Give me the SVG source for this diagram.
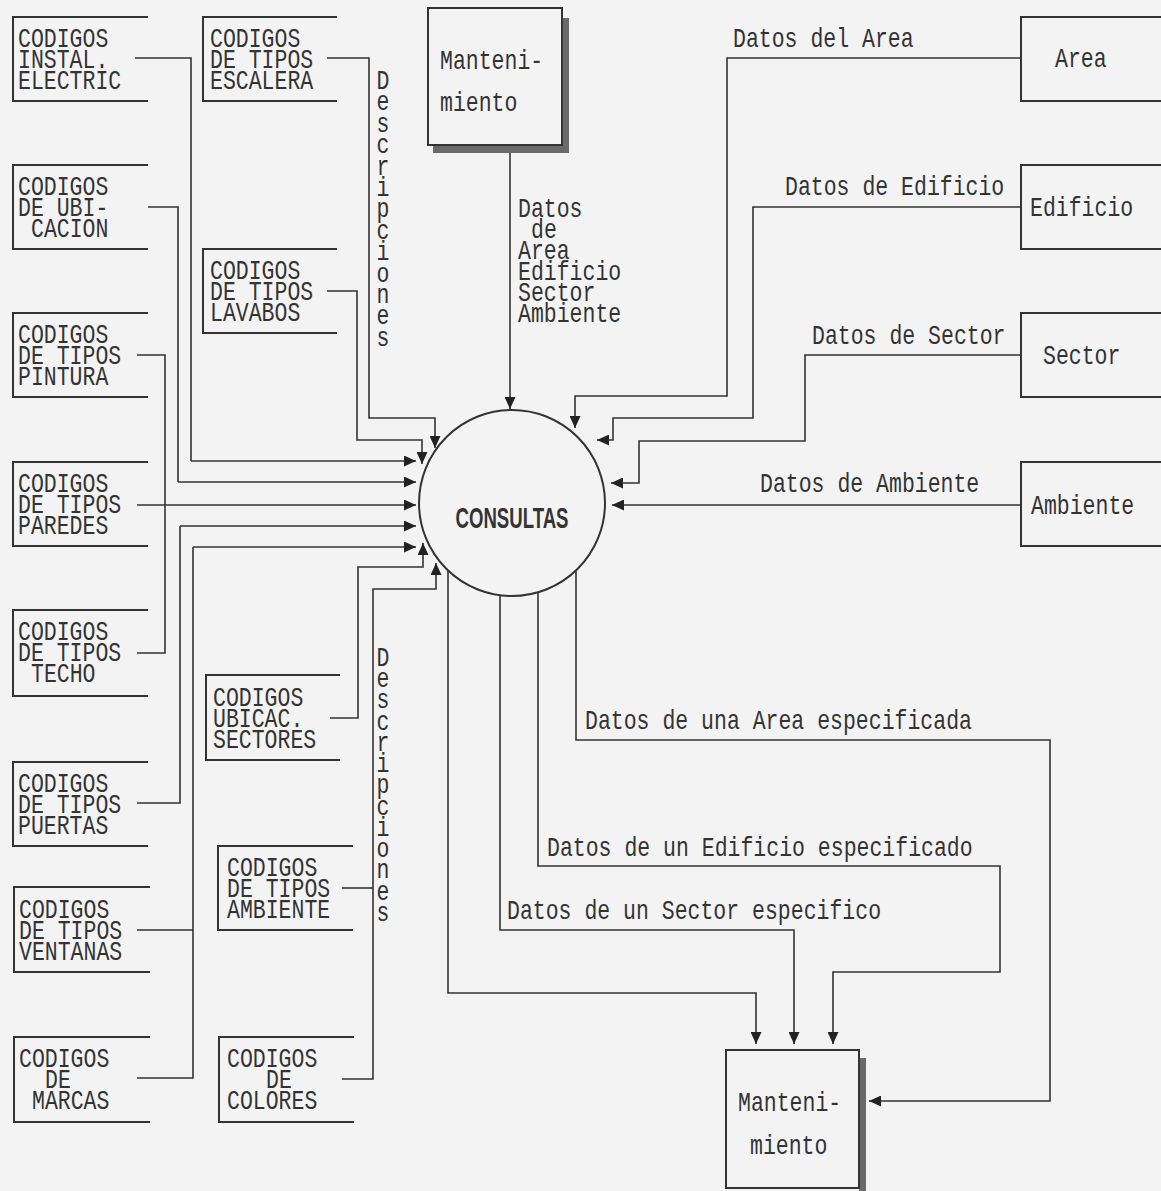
<svg xmlns="http://www.w3.org/2000/svg" width="1161" height="1191" viewBox="0 0 1161 1191">
<style>
.t{font-family:"Liberation Mono","DejaVu Sans Mono",monospace;font-size:21.5px;fill:#333}
.box{fill:none;stroke:#333;stroke-width:2}
.ln{fill:none;stroke:#333;stroke-width:1.6}
.arr{fill:none;stroke:#333;stroke-width:1.6;marker-end:url(#ah)}
.sh{fill:#6a6a6a}
</style>
<defs>
<marker id="ah" markerUnits="userSpaceOnUse" markerWidth="13" markerHeight="11" refX="12" refY="5.5" orient="auto" viewBox="0 0 13 11"><path d="M0,0 L12,5.5 L0,11 z" fill="#222"/></marker>
</defs>
<rect width="1161" height="1191" fill="#f3f3f3"/>

<!-- Left column stores -->
<g id="n-instal"><path class="box" d="M148,17 H13 V101 H148"/><text class="t" transform="translate(18,47) scale(1,1.25)"><tspan x="0" y="0">CODIGOS</tspan><tspan x="0" y="16.8">INSTAL.</tspan><tspan x="0" y="33.6">ELECTRIC</tspan></text></g>
<g id="n-ubicacion"><path class="box" d="M148,165 H13 V249 H148"/><text class="t" transform="translate(18,195) scale(1,1.25)"><tspan x="0" y="0">CODIGOS</tspan><tspan x="0" y="16.8">DE UBI-</tspan><tspan x="13" y="33.6">CACION</tspan></text></g>
<g id="n-pintura"><path class="box" d="M148,313 H13 V397 H148"/><text class="t" transform="translate(18,343) scale(1,1.25)"><tspan x="0" y="0">CODIGOS</tspan><tspan x="0" y="16.8">DE TIPOS</tspan><tspan x="0" y="33.6">PINTURA</tspan></text></g>
<g id="n-paredes"><path class="box" d="M148,462 H13 V546 H148"/><text class="t" transform="translate(18,492) scale(1,1.25)"><tspan x="0" y="0">CODIGOS</tspan><tspan x="0" y="16.8">DE TIPOS</tspan><tspan x="0" y="33.6">PAREDES</tspan></text></g>
<g id="n-techo"><path class="box" d="M148,610 H13 V696 H148"/><text class="t" transform="translate(18,640) scale(1,1.25)"><tspan x="0" y="0">CODIGOS</tspan><tspan x="0" y="16.8">DE TIPOS</tspan><tspan x="13" y="33.6">TECHO</tspan></text></g>
<g id="n-puertas"><path class="box" d="M148,762 H13 V846 H148"/><text class="t" transform="translate(18,792) scale(1,1.25)"><tspan x="0" y="0">CODIGOS</tspan><tspan x="0" y="16.8">DE TIPOS</tspan><tspan x="0" y="33.6">PUERTAS</tspan></text></g>
<g id="n-ventanas"><path class="box" d="M150,887 H14 V972 H150"/><text class="t" transform="translate(19,918) scale(1,1.25)"><tspan x="0" y="0">CODIGOS</tspan><tspan x="0" y="16.8">DE TIPOS</tspan><tspan x="0" y="33.6">VENTANAS</tspan></text></g>
<g id="n-marcas"><path class="box" d="M150,1037 H14 V1122 H150"/><text class="t" transform="translate(19,1067) scale(1,1.25)"><tspan x="0" y="0">CODIGOS</tspan><tspan x="26" y="16.8">DE</tspan><tspan x="13" y="33.6">MARCAS</tspan></text></g>

<!-- Second column stores -->
<g id="n-escalera"><path class="box" d="M337,17 H203 V101 H337"/><text class="t" transform="translate(210,47) scale(1,1.25)"><tspan x="0" y="0">CODIGOS</tspan><tspan x="0" y="16.8">DE TIPOS</tspan><tspan x="0" y="33.6">ESCALERA</tspan></text></g>
<g id="n-lavabos"><path class="box" d="M337,249 H203 V333 H337"/><text class="t" transform="translate(210,279) scale(1,1.25)"><tspan x="0" y="0">CODIGOS</tspan><tspan x="0" y="16.8">DE TIPOS</tspan><tspan x="0" y="33.6">LAVABOS</tspan></text></g>
<g id="n-sectores"><path class="box" d="M340,675 H206 V760 H340"/><text class="t" transform="translate(213,706) scale(1,1.25)"><tspan x="0" y="0">CODIGOS</tspan><tspan x="0" y="16.8">UBICAC.</tspan><tspan x="0" y="33.6">SECTORES</tspan></text></g>
<g id="n-ambiente-tipos"><path class="box" d="M353,846 H218 V930 H353"/><text class="t" transform="translate(227,876) scale(1,1.25)"><tspan x="0" y="0">CODIGOS</tspan><tspan x="0" y="16.8">DE TIPOS</tspan><tspan x="0" y="33.6">AMBIENTE</tspan></text></g>
<g id="n-colores"><path class="box" d="M354,1037 H219 V1122 H354"/><text class="t" transform="translate(227,1067) scale(1,1.25)"><tspan x="0" y="0">CODIGOS</tspan><tspan x="39" y="16.8">DE</tspan><tspan x="0" y="33.6">COLORES</tspan></text></g>

<!-- Right stores -->
<g id="n-area"><path class="box" d="M1161,17 H1021 V101 H1161"/><text class="t" transform="translate(1055,67) scale(1,1.25)">Area</text></g>
<g id="n-edificio"><path class="box" d="M1161,165 H1021 V249 H1161"/><text class="t" transform="translate(1030,216) scale(1,1.25)">Edificio</text></g>
<g id="n-sector"><path class="box" d="M1161,313 H1021 V397 H1161"/><text class="t" transform="translate(1043,364) scale(1,1.25)">Sector</text></g>
<g id="n-ambiente"><path class="box" d="M1161,462 H1021 V546 H1161"/><text class="t" transform="translate(1031,514) scale(1,1.25)">Ambiente</text></g>

<!-- Process -->
<g id="n-consultas"><circle cx="512" cy="503" r="93" fill="none" stroke="#333" stroke-width="2"/><text x="512" y="528" text-anchor="middle" font-family="Liberation Sans,Arial,sans-serif" font-weight="bold" font-size="30" fill="#333" textLength="113" lengthAdjust="spacingAndGlyphs">CONSULTAS</text></g>

<!-- External entities -->
<g id="n-mant-top"><rect class="sh" x="562" y="18" width="7" height="135"/><rect class="sh" x="433" y="145" width="136" height="8"/><rect x="428" y="8" width="134" height="137" fill="#f3f3f3" stroke="#333" stroke-width="2"/><text class="t" transform="translate(440,69) scale(1,1.25)"><tspan x="0" y="0">Manteni-</tspan><tspan x="0" y="33.6">miento</tspan></text></g>
<g id="n-mant-bottom"><rect class="sh" x="859" y="1058" width="7" height="133"/><rect x="726" y="1050" width="133" height="138" fill="#f3f3f3" stroke="#333" stroke-width="2"/><text class="t" transform="translate(738,1111) scale(1,1.25)"><tspan x="0" y="0">Manteni-</tspan><tspan x="12" y="34.4">miento</tspan></text></g>

<!-- Connectors -->
<g id="connectors">
<path class="ln" d="M135,58 H191 V461"/>
<path class="arr" d="M191,461 H416"/>
<path class="ln" d="M148,207 H178 V482"/>
<path class="arr" d="M178,482 H416"/>
<path class="ln" d="M137,355 H165 V653 H137"/>
<path class="arr" d="M137,505 H416"/>
<path class="ln" d="M137,803 H180 V526"/>
<path class="arr" d="M180,526 H416"/>
<path class="ln" d="M137,930 H193"/>
<path class="ln" d="M137,1078 H193 V547"/>
<path class="arr" d="M193,547 H416"/>
<path class="arr" d="M327,58 H369 V418 H435 V448"/>
<path class="arr" d="M327,291 H357 V440 H422 V464"/>
<path class="arr" d="M330,718 H358 V567 H423 V543"/>
<path class="ln" d="M342,888 H373"/>
<path class="arr" d="M342,1079 H373 V589 H436 V563"/>
<path class="arr" d="M510,153 V409"/>
<path class="arr" d="M1021,58 H727 V396 H575 V428"/>
<path class="arr" d="M1021,207 H753 V418 H613 V440 H597"/>
<path class="arr" d="M1021,355 H805 V441 H639 V483 H611"/>
<path class="arr" d="M1021,505 H612"/>
<path class="arr" d="M448,571 V993 H756 V1044"/>
<path class="arr" d="M500,595 V930 H794 V1044"/>
<path class="arr" d="M538,592 V866 H1000 V972 H833 V1044"/>
<path class="arr" d="M576,571 V740 H1050 V1101 H869"/>
</g>

<!-- Connector labels -->
<g id="labels">
<text class="t" text-anchor="middle" transform="translate(383,89) scale(1,1.25)"><tspan x="0" y="0">D</tspan><tspan x="0" dy="17.12">e</tspan><tspan x="0" dy="17.12">s</tspan><tspan x="0" dy="17.12">c</tspan><tspan x="0" dy="17.12">r</tspan><tspan x="0" dy="17.12">i</tspan><tspan x="0" dy="17.12">p</tspan><tspan x="0" dy="17.12">c</tspan><tspan x="0" dy="17.12">i</tspan><tspan x="0" dy="17.12">o</tspan><tspan x="0" dy="17.12">n</tspan><tspan x="0" dy="17.12">e</tspan><tspan x="0" dy="17.12">s</tspan></text>
<text class="t" text-anchor="middle" transform="translate(383,666) scale(1,1.25)"><tspan x="0" y="0">D</tspan><tspan x="0" dy="17">e</tspan><tspan x="0" dy="17">s</tspan><tspan x="0" dy="17">c</tspan><tspan x="0" dy="17">r</tspan><tspan x="0" dy="17">i</tspan><tspan x="0" dy="17">p</tspan><tspan x="0" dy="17">c</tspan><tspan x="0" dy="17">i</tspan><tspan x="0" dy="17">o</tspan><tspan x="0" dy="17">n</tspan><tspan x="0" dy="17">e</tspan><tspan x="0" dy="17">s</tspan></text>
<text class="t" transform="translate(518,217) scale(1,1.25)"><tspan x="0" y="0">Datos</tspan><tspan x="13" y="16.8">de</tspan><tspan x="0" y="33.6">Area</tspan><tspan x="0" y="50.4">Edificio</tspan><tspan x="0" y="67.2">Sector</tspan><tspan x="0" y="84">Ambiente</tspan></text>
<text class="t" transform="translate(733,47) scale(1,1.25)">Datos del Area</text>
<text class="t" transform="translate(785,195) scale(1,1.25)">Datos de Edificio</text>
<text class="t" transform="translate(812,344) scale(1,1.25)">Datos de Sector</text>
<text class="t" transform="translate(760,492) scale(1,1.25)">Datos de Ambiente</text>
<text class="t" transform="translate(585,729) scale(1,1.25)">Datos de una Area especificada</text>
<text class="t" transform="translate(547,856) scale(1,1.25)">Datos de un Edificio especificado</text>
<text class="t" transform="translate(507,919) scale(1,1.25)">Datos de un Sector especifico</text>
</g>
</svg>
